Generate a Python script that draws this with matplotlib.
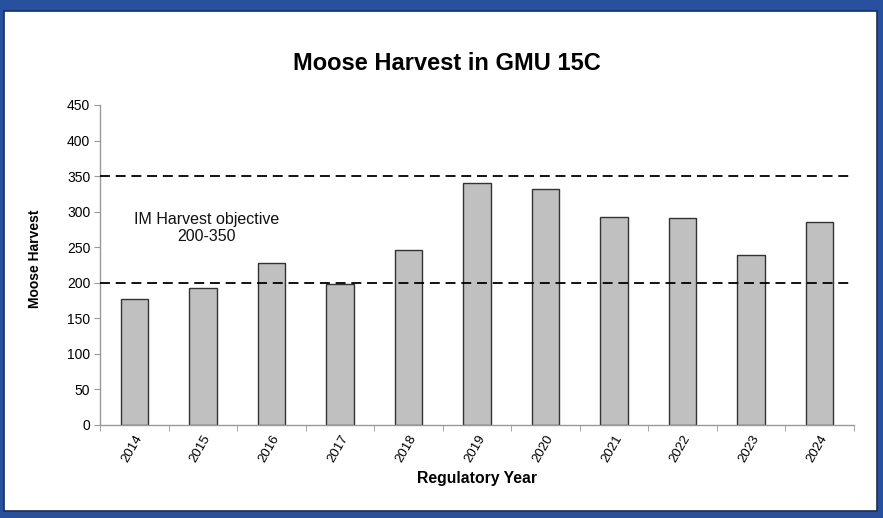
import matplotlib
matplotlib.use("Agg")
import matplotlib.pyplot as plt
from matplotlib.patches import Rectangle
import numpy as np

plt.rcParams['font.family'] = ['Liberation Sans', 'DejaVu Sans']

years = ['2014', '2015', '2016', '2017', '2018', '2019', '2020', '2021', '2022', '2023', '2024']
harvest = [177, 193, 228, 198, 246, 341, 332, 293, 291, 239, 286]
objective_low = 200
objective_high = 350
yticks = [0, 50, 100, 150, 200, 250, 300, 350, 400, 450]

W, H = 883, 518
fig = plt.figure(figsize=(W / 100, H / 100), dpi=100)
fig.patch.set_facecolor('#27509E')

# white panel with dark border
panel = Rectangle((4 / W, 1 - 511 / H), (877 - 4) / W, (511 - 11) / H,
                  transform=fig.transFigure, facecolor='white',
                  edgecolor='#1A2F5E', linewidth=1.2, zorder=-5)
fig.patches.append(panel)

ax = fig.add_axes([100 / W, 1 - 425 / H, (854 - 100) / W, (425 - 105) / H])
ax.set_facecolor('none')
ax.set_zorder(1)

x = np.arange(len(years))
ax.bar(x, harvest, width=0.4, color='#C0C0C0', edgecolor='#333333', linewidth=1.0, zorder=2)

ax.axhline(objective_high, color='black', linestyle=(0, (5.5, 3.2)), linewidth=1.3, zorder=3)
ax.axhline(objective_low, color='black', linestyle=(0, (5.5, 3.2)), linewidth=1.3, zorder=3)

ax.text(1.05, 277, 'IM Harvest objective\n200-350', ha='center', va='center',
        fontsize=11.5, linespacing=1.15, color='#111111')

ax.set_xlim(-0.5, len(years) - 0.5)
ax.set_ylim(0, 450)
ax.set_yticks(yticks)
ax.set_yticklabels([str(v) for v in yticks], fontsize=10)
ax.set_xticks(x)
ax.set_xticklabels(years, rotation=60, ha='right', va='top', rotation_mode='anchor', fontsize=9.5)
ax.tick_params(axis='x', which='major', length=0, pad=6)
ax.set_xticks(np.arange(-0.5, len(years)), minor=True)
ax.tick_params(axis='x', which='minor', length=4, color='#999999')
ax.tick_params(axis='y', length=4, color='#999999', pad=3)

for s in ['top', 'right']:
    ax.spines[s].set_visible(False)
for s in ['left', 'bottom']:
    ax.spines[s].set_color('#999999')
    ax.spines[s].set_linewidth(1.0)

ax.set_xlabel('Regulatory Year', fontsize=11.3, fontweight='bold')
ax.xaxis.set_label_coords(0.5, -(478 - 425) / 320, transform=ax.transAxes)
ax.set_ylabel('Moose Harvest', fontsize=10, fontweight='bold')
ax.yaxis.set_label_coords(-(100 - 35) / (854 - 100), (425 - 258.5) / 320, transform=ax.transAxes)
ax.yaxis.label.set_va('center')
ax.xaxis.label.set_va('center')

fig.text(447 / W, 1 - 63 / H, 'Moose Harvest in GMU 15C', ha='center', va='center',
         fontsize=17, fontweight='bold')

fig.savefig('out.png', dpi=100, facecolor=fig.get_facecolor())
